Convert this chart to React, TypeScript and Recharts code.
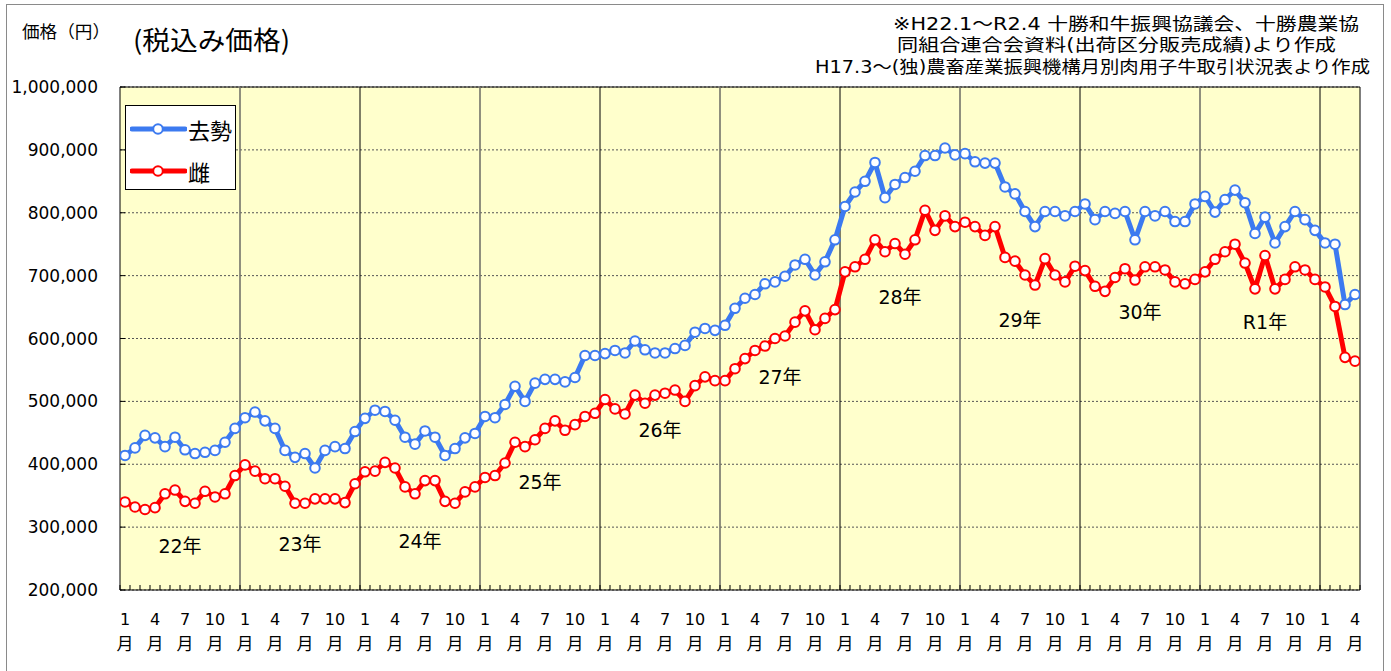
import React from "react";
import {
  LineChart,
  Line,
  XAxis,
  YAxis,
  CartesianGrid,
  ReferenceLine,
  ReferenceArea,
  ReferenceDot,
  Legend,
} from "recharts";

const years = ["22", "23", "24", "25", "26", "27", "28", "29", "30", "R1", "R2"];
const monthsInYear = [12, 12, 12, 12, 12, 12, 12, 12, 12, 12, 4];

// 去勢 (円), H22.1 ～ R2.4
const steerPrices = [
  414000, 426000, 446000, 442000, 428000, 443000, 423000, 417000, 419000, 422000, 435000, 457000,
  474000, 483000, 469000, 457000, 422000, 411000, 417000, 394000, 422000, 428000, 425000, 452000,
  473000, 486000, 484000, 470000, 443000, 432000, 453000, 443000, 414000, 425000, 442000, 449000,
  476000, 474000, 495000, 524000, 500000, 529000, 535000, 535000, 531000, 538000, 573000, 573000,
  576000, 581000, 577000, 596000, 582000, 577000, 577000, 584000, 589000, 610000, 616000, 613000,
  621000, 648000, 664000, 670000, 687000, 690000, 699000, 717000, 726000, 701000, 722000, 757000,
  810000, 833000, 850000, 880000, 824000, 845000, 856000, 866000, 891000, 891000, 903000, 892000,
  894000, 881000, 879000, 879000, 841000, 830000, 802000, 778000, 802000, 802000, 795000, 802000,
  814000, 789000, 802000, 799000, 802000, 757000, 802000, 795000, 802000, 786000, 786000, 814000,
  826000, 801000, 821000, 836000, 816000, 767000, 793000, 752000, 778000, 802000, 789000, 772000,
  752000, 750000, 654000, 670000,
];

// 雌 (円)
const heiferPrices = [
  340000, 332000, 328000, 331000, 353000, 359000, 341000, 338000, 357000, 348000, 353000, 382000,
  399000, 389000, 377000, 377000, 365000, 338000, 338000, 345000, 345000, 345000, 339000, 369000,
  388000, 389000, 403000, 394000, 364000, 353000, 374000, 374000, 341000, 338000, 356000, 364000,
  379000, 382000, 402000, 435000, 428000, 439000, 457000, 469000, 454000, 463000, 476000, 481000,
  503000, 488000, 480000, 510000, 497000, 510000, 513000, 518000, 500000, 525000, 539000, 533000,
  533000, 552000, 568000, 581000, 588000, 600000, 604000, 626000, 644000, 614000, 632000, 646000,
  706000, 714000, 726000, 757000, 738000, 751000, 734000, 757000, 804000, 772000, 795000, 778000,
  785000, 778000, 764000, 778000, 729000, 723000, 701000, 685000, 727000, 701000, 690000, 715000,
  708000, 683000, 675000, 697000, 711000, 693000, 714000, 714000, 709000, 690000, 687000, 694000,
  706000, 726000, 738000, 750000, 720000, 679000, 732000, 679000, 694000, 714000, 709000, 694000,
  682000, 651000, 570000, 564000,
];

const priceTicks = [200000, 300000, 400000, 500000, 600000, 700000, 800000, 900000, 1000000];
const labeledMonths = [1, 4, 7, 10];

const yearLabels = ["22年", "23年", "24年", "25年", "26年", "27年", "28年", "29年", "30年", "R1年"];
const yearLabelAt = [6, 18, 30, 42, 54, 66, 78, 90, 102, 114.5];
const yearLabelPrice = [269000, 272000, 278000, 372000, 454000, 538000, 665000, 629000, 642000, 626000];

const sourceNotes = [
  "※H22.1～R2.4 十勝和牛振興協議会、十勝農業協",
  "同組合連合会資料(出荷区分販売成績)より作成",
  "H17.3～(独)農畜産業振興機構月別肉用子牛取引状況表より作成",
];

const months = years.flatMap((_, i) => Array.from({ length: monthsInYear[i] }, (_, m) => m + 1));
const data = months.map((month, i) => ({
  pos: i + 0.5,
  month,
  steer: steerPrices[i],
  heifer: heiferPrices[i],
}));
const totalMonths = months.length;
const monthTicks = data.filter((d) => labeledMonths.includes(d.month)).map((d) => d.pos);
const monthEdges = Array.from({ length: totalMonths + 1 }, (_, i) => i);
const yearStarts = years
  .slice(1)
  .map((_, i) => monthsInYear.slice(0, i + 1).reduce((a, b) => a + b, 0));

const BLUE = "#3c7af0";
const RED = "#ff0000";
const NUM_FONT = "'DejaVu Sans', 'Noto Sans CJK JP', sans-serif";
const JP_FONT = "'Noto Sans CJK JP', sans-serif";

// note line placement: [left x, centre y, font size, width]
const noteLayout = [
  [893, 24, 17.5, 466],
  [897, 44.5, 17.5, 439],
  [815, 66.5, 17, 555],
];

function MonthTick({ x, y, payload }: { x?: number; y?: number; payload?: { value: number } }) {
  const month = months[Math.floor(payload?.value ?? 0)];
  return (
    <g>
      <text x={x} y={(y ?? 0) + 29} textAnchor="middle" dominantBaseline="central" fontSize={16} fill="#000" fontFamily={NUM_FONT}>
        {month}
      </text>
      <text x={x} y={(y ?? 0) + 52} textAnchor="middle" dominantBaseline="central" fontSize={17} fill="#000" fontFamily={JP_FONT}>
        月
      </text>
    </g>
  );
}

function LegendBox({ payload }: { payload?: Array<{ value?: string; color?: string }> }) {
  return (
    <div
      style={{
        width: 111,
        height: 85,
        boxSizing: "border-box",
        border: "1px solid #000",
        background: "#fff",
        position: "relative",
      }}
    >
      {(payload ?? []).map((p, i) => (
        <div
          key={p.value}
          style={{ position: "absolute", left: 4, top: i === 0 ? 11 : 53, height: 24, display: "flex", alignItems: "center" }}
        >
          <svg width={57} height={24}>
            <line x1={2} x2={55} y1={12} y2={12} stroke={p.color} strokeWidth={5} strokeLinecap="round" />
            <circle cx={28} cy={12} r={4.8} fill="#fff" stroke={p.color} strokeWidth={2} />
          </svg>
          <span style={{ fontSize: 22, fontFamily: JP_FONT, marginLeft: 1, lineHeight: "24px", color: "#000" }}>
            {p.value}
          </span>
        </div>
      ))}
    </div>
  );
}

export default function App() {
  return (
    <div
      style={{
        position: "absolute",
        left: 0,
        top: 0,
        width: 1391,
        height: 671,
        overflow: "hidden",
        background: "#fff",
        fontFamily: NUM_FONT,
      }}
    >
      <div
        style={{
          position: "absolute",
          left: 6,
          top: 4,
          width: 1376,
          height: 700,
          border: "1px solid #8a8a8a",
        }}
      />
      <div style={{ position: "absolute", left: 0, top: 0 }}>
        <LineChart width={1391} height={671} data={data} margin={{ top: 87, right: 31, bottom: 11, left: 0 }}>
          <CartesianGrid
            xAxisId="m"
            vertical={false}
            stroke="#555"
            strokeDasharray="2 2"
            fill="#ffffcc"
            fillOpacity={1}
          />
          <XAxis
            xAxisId="m"
            type="number"
            dataKey="pos"
            domain={[0, totalMonths]}
            ticks={monthTicks}
            interval={0}
            allowDataOverflow
            axisLine={false}
            tickLine={false}
            tickSize={0}
            tickMargin={0}
            height={70}
            tick={<MonthTick />}
          />
          <XAxis
            xAxisId="edge"
            type="number"
            dataKey="pos"
            domain={[0, totalMonths]}
            ticks={monthEdges}
            interval={0}
            allowDataOverflow
            mirror
            height={10}
            axisLine={false}
            tickSize={5}
            tickLine={{ stroke: "#000" }}
            tick={() => <g />}
          />
          <YAxis
            domain={[200000, 1000000]}
            ticks={priceTicks}
            interval={0}
            allowDataOverflow
            width={120}
            axisLine={false}
            tickLine={false}
            tickSize={0}
            tickMargin={22}
            tick={{ fontSize: 17, fill: "#000", fontFamily: NUM_FONT }}
            tickFormatter={(v: number) => v.toLocaleString("en-US")}
          />
          <YAxis
            yAxisId="t"
            domain={[200000, 1000000]}
            ticks={priceTicks}
            interval={0}
            allowDataOverflow
            mirror
            width={10}
            axisLine={false}
            tickSize={5}
            tickLine={{ stroke: "#000" }}
            tick={() => <g />}
          />
          {yearStarts.map((m, i) => (
            <ReferenceLine
              key={m}
              xAxisId="m"
              x={m}
              stroke={i % 2 === 0 ? "#74746a" : "#000"}
              strokeWidth={i % 2 === 0 ? 1.6 : 1}
            />
          ))}
          <ReferenceArea
            xAxisId="m"
            x1={0}
            x2={totalMonths}
            y1={200000}
            y2={1000000}
            fill="none"
            stroke="#000"
            strokeWidth={1}
          />
          {yearLabels.map((t, i) => (
            <ReferenceDot
              key={t}
              xAxisId="m"
              x={yearLabelAt[i]}
              y={yearLabelPrice[i]}
              r={0}
              fill="none"
              stroke="none"
              label={{ value: t, position: "center", fontSize: 19, fill: "#000", fontFamily: NUM_FONT }}
            />
          ))}
          <Line
            xAxisId="m"
            type="linear"
            dataKey="steer"
            name="去勢"
            stroke={BLUE}
            strokeWidth={5}
            strokeLinejoin="round"
            dot={{ r: 4.8, fill: "#fff", stroke: BLUE, strokeWidth: 2 }}
            activeDot={false}
            isAnimationActive={false}
          />
          <Line
            xAxisId="m"
            type="linear"
            dataKey="heifer"
            name="雌"
            stroke={RED}
            strokeWidth={5}
            strokeLinejoin="round"
            dot={{ r: 4.8, fill: "#fff", stroke: RED, strokeWidth: 2 }}
            activeDot={false}
            isAnimationActive={false}
          />
          <Legend
            layout="vertical"
            align="center"
            verticalAlign="middle"
            wrapperStyle={{ left: 125, top: 105, width: 111, height: 85 }}
            content={<LegendBox />}
          />
        </LineChart>
      </div>
      <svg
        width={1391}
        height={90}
        style={{ position: "absolute", left: 0, top: 0, pointerEvents: "none" }}
        fontFamily={JP_FONT}
      >
        <text x={22} y={30} fontSize={17} dominantBaseline="central" textLength={88} lengthAdjust="spacingAndGlyphs">
          価格（円）
        </text>
        <text x={133} y={38} fontSize={26} dominantBaseline="central" textLength={157} lengthAdjust="spacingAndGlyphs">
          (税込み価格)
        </text>
        {sourceNotes.map((line, i) => {
          const [x, y, size, w] = noteLayout[i];
          return (
            <text
              key={line}
              x={x}
              y={y}
              fontSize={size}
              fontFamily={NUM_FONT}
              dominantBaseline="central"
              textLength={w}
              lengthAdjust="spacingAndGlyphs"
            >
              {line}
            </text>
          );
        })}
      </svg>
    </div>
  );
}
